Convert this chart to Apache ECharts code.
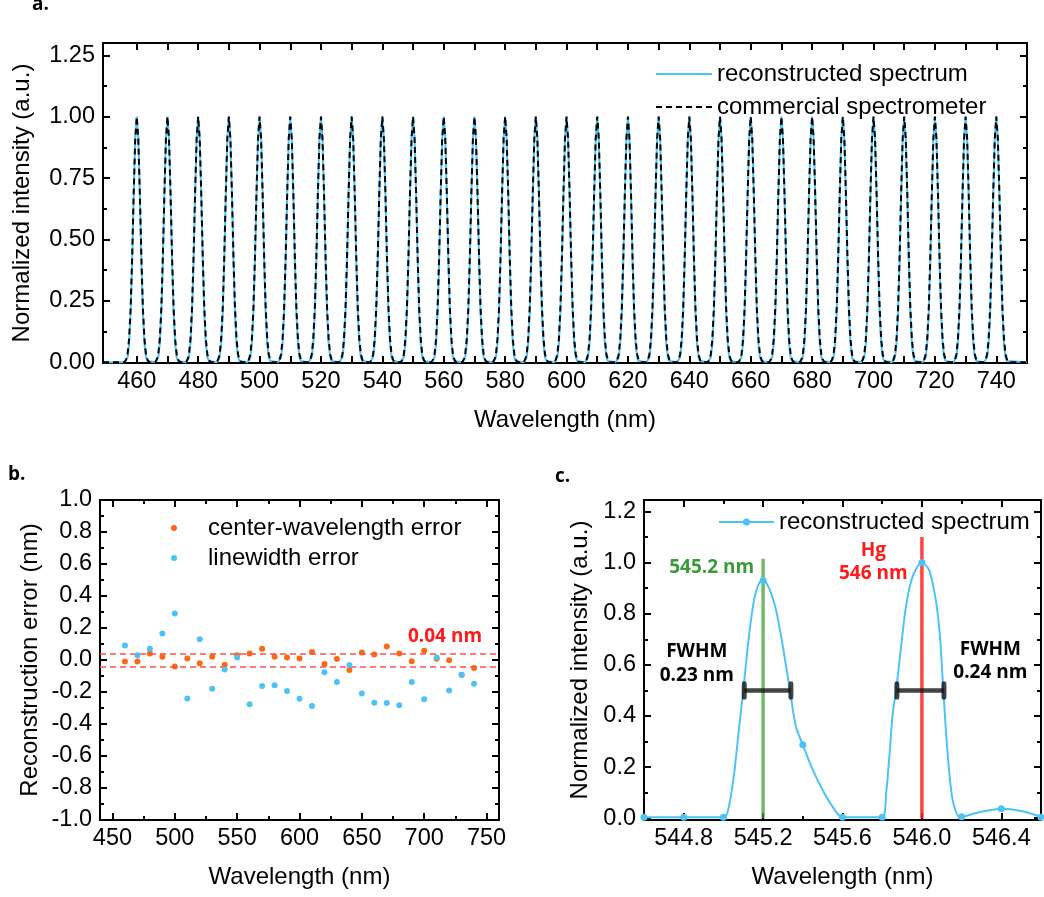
<!DOCTYPE html>
<html><head><meta charset="utf-8">
<script src="https://cdn.jsdelivr.net/npm/echarts@6/dist/echarts.min.js"></script>
<style>html,body{margin:0;padding:0;background:#fff}#c{width:1044px;height:897px}</style>
</head><body><div id="c"></div>
<script>
// ---------- Panel a data ----------
const peakCenters = [460,470,480,490,500,510,520,530,540,550,560,570,580,590,600,610,620,630,640,650,660,670,680,690,700,710,720,730,740];
const profileOffsets = [-4,-3.5,-3,-2.5,-2,-1.5,-1,-0.5,0,0.5,1,1.5,2,2.5,3,3.5,4];
const commercialProfile = [0,0.01,0.033,0.095,0.22,0.43,0.69,0.91,1,0.91,0.69,0.43,0.22,0.095,0.033,0.01,0];
const reconProfile = [0,0.005,0.02,0.075,0.2,0.41,0.68,0.91,1,0.91,0.68,0.41,0.2,0.075,0.02,0.005,0];
const aRange = [449, 750];
const aXTicks = [460,470,480,490,500,510,520,530,540,550,560,570,580,590,600,610,620,630,640,650,660,670,680,690,700,710,720,730,740];
const aXLabels = [460,480,500,520,540,560,580,600,620,640,660,680,700,720,740];
const aYLabels = [0,0.25,0.5,0.75,1,1.25];
const aYMinor = [0.125,0.375,0.625,0.875,1.125];

// ---------- Panel b data ----------
const bWavelengths = [460,470,480,490,500,510,520,530,540,550,560,570,580,590,600,610,620,630,640,650,660,670,680,690,700,710,720,730,740];
const bCenterError = [-0.01,-0.01,0.04,0.02,-0.04,0.01,-0.02,0.02,-0.03,0.03,0.04,0.07,0.02,0.015,0.01,0.05,-0.025,0.006,-0.062,0.047,0.035,0.085,0.04,-0.008,0.058,0.008,-0.002,-0.092,-0.05];
const bLinewidthError = [0.09,0.03,0.07,0.165,0.29,-0.24,0.13,-0.18,-0.06,0.015,-0.277,-0.162,-0.158,-0.194,-0.242,-0.288,-0.077,-0.138,-0.031,-0.21,-0.267,-0.269,-0.283,-0.138,-0.246,0.015,-0.19,-0.094,-0.148];
const bThreshold = 0.04;
const bXLabels = [450,500,550,600,650,700,750];
const bXMinor = [475,525,575,625,675,725];
const bYLabels = [-1,-0.8,-0.6,-0.4,-0.2,0,0.2,0.4,0.6,0.8,1];
const bYMinor = [-0.9,-0.7,-0.5,-0.3,-0.1,0.1,0.3,0.5,0.7,0.9];

// ---------- Panel c data ----------
const cPointX = [544.6,544.8,545.0,545.2,545.4,545.6,545.8,546.0,546.2,546.4,546.6];
const cPointY = [0.004,0.004,0.004,0.93,0.287,0.004,0.004,1.0,0.006,0.037,0.004];
const cCurveX = [544.6,544.8,545.0,545.02,545.05,545.08,545.1,545.13,545.155,545.18,545.2,545.23,545.265,545.3,545.335,545.365,545.4,545.45,545.5,545.55,545.6,545.8,545.82,545.837,545.853,545.87,545.895,545.92,545.953,546.0,546.037,546.07,546.09,546.108,546.13,546.155,546.19,546.2,546.3,546.4,546.5,546.6];
const cCurveY = [0.004,0.004,0.004,0.02,0.15,0.36,0.5,0.72,0.855,0.92,0.93,0.9,0.815,0.67,0.5,0.36,0.287,0.19,0.11,0.045,0.004,0.004,0.1,0.25,0.41,0.5,0.67,0.83,0.945,1.0,0.97,0.854,0.72,0.5,0.25,0.07,0.004,0.005,0.025,0.037,0.028,0.005];
const cXLabels = [544.8,545.2,545.6,546.0,546.4];
const cXMinor = [545.0,545.4,545.8,546.2];
const cYLabels = [0,0.2,0.4,0.6,0.8,1.0,1.2];
const cYMinor = [0.1,0.3,0.5,0.7,0.9,1.1];
const cGreenLine = [545.2, 1.015];   // wavelength, top
const cRedLine = [546.0, 1.10];
const cHalfMax = 0.5;
const cFwhm1 = [545.105, 545.34];
const cFwhm2 = [545.874, 546.111];
const cTextGreen = [[544.941, 0.979, '545.2 nm']];
const cTextRed = [[545.755, 1.047, 'Hg'], [545.755, 0.958, '546 nm']];
const cTextBlack = [[544.866, 0.651, 'FWHM'], [544.866, 0.558, '0.23 nm'], [546.345, 0.658, 'FWHM'], [546.345, 0.568, '0.24 nm']];
const bTextRed = [[716.7, 0.144, '0.04 nm']];

const names = {recA:'reconstructed spectrum', comA:'commercial spectrometer', cwErr:'center-wavelength error', lwErr:'linewidth error', recC:'reconstructed spectrum'};

// ---------- build ----------
const FONT = '"Liberation Sans", Arial, sans-serif';
const BOLD = '"Open Sans", "DejaVu Sans", sans-serif';
const BLUE = '#4dc3f4';
const ORANGE = '#f96a14';
const TICK_FS = 23.5, NAME_FS = 24;

function buildSpectrum(profile) {
  const pts = [[aRange[0], 0]];
  peakCenters.forEach(c => profileOffsets.forEach((o, i) => pts.push([c + o, profile[i]])));
  pts.push([aRange[1], 0]);
  return pts;
}

function makeAxes(dim, gridIndex, cfg) {
  const sides = dim === 'x' ? ['bottom', 'top'] : ['left', 'right'];
  const common = {type: 'value', gridIndex, min: cfg.min, max: cfg.max, splitLine: {show: false}, silent: true};
  const tick = {color: '#000', width: 2};
  const line = {show: true, onZero: false, lineStyle: {color: '#000', width: 2}};
  const noLine = {show: false, onZero: false};
  const hasMinor = cfg.minors && cfg.minors.length > 0;
  return [
    Object.assign({}, common, {position: sides[0], axisLine: line,
      axisTick: {show: true, inside: true, length: 7, lineStyle: tick, customValues: cfg.majors},
      axisLabel: {show: true, customValues: cfg.labels, formatter: cfg.fmt, color: '#000', fontSize: TICK_FS, fontFamily: FONT, margin: cfg.margin},
      name: cfg.name, nameLocation: 'middle', nameGap: cfg.nameGap,
      nameTextStyle: {color: '#000', fontSize: NAME_FS, fontFamily: FONT}}),
    Object.assign({}, common, {position: sides[0], axisLine: noLine,
      axisTick: {show: hasMinor, inside: true, length: 4, lineStyle: tick, customValues: hasMinor ? cfg.minors : undefined},
      axisLabel: {show: false}}),
    Object.assign({}, common, {position: sides[1], axisLine: line,
      axisTick: {show: true, inside: true, length: 7, lineStyle: tick, customValues: cfg.majors},
      axisLabel: {show: false}}),
    Object.assign({}, common, {position: sides[1], axisLine: noLine,
      axisTick: {show: hasMinor, inside: true, length: 4, lineStyle: tick, customValues: hasMinor ? cfg.minors : undefined},
      axisLabel: {show: false}})
  ];
}

const xAxis = [], yAxis = [];
xAxis.push(...makeAxes('x', 0, {min: aRange[0], max: aRange[1], majors: aXTicks, minors: [], labels: aXLabels, fmt: v => String(v), margin: 7, name: 'Wavelength (nm)', nameGap: 45}));
yAxis.push(...makeAxes('y', 0, {min: -0.003, max: 1.3, majors: aYLabels, minors: aYMinor, labels: aYLabels, fmt: v => v.toFixed(2), margin: 8, name: 'Normalized intensity (a.u.)', nameGap: 69}));
xAxis.push(...makeAxes('x', 1, {min: 440, max: 760, majors: bXLabels, minors: bXMinor, labels: bXLabels, fmt: v => String(v), margin: 7, name: 'Wavelength (nm)', nameGap: 45}));
yAxis.push(...makeAxes('y', 1, {min: -1, max: 1, majors: bYLabels, minors: bYMinor, labels: bYLabels, fmt: v => v.toFixed(1), margin: 8, name: 'Reconstruction error (nm)', nameGap: 58}));
xAxis.push(...makeAxes('x', 2, {min: 544.6, max: 546.6, majors: cXLabels, minors: cXMinor, labels: cXLabels, fmt: v => v.toFixed(1), margin: 7, name: 'Wavelength (nm)', nameGap: 45}));
yAxis.push(...makeAxes('y', 2, {min: -0.007, max: 1.245, majors: cYLabels, minors: cYMinor, labels: cYLabels, fmt: v => v.toFixed(1), margin: 8, name: 'Normalized intensity (a.u.)', nameGap: 52}));

const A = {xAxisIndex: 0, yAxisIndex: 0};
const B = {xAxisIndex: 4, yAxisIndex: 4};
const C = {xAxisIndex: 8, yAxisIndex: 8};

function textSeries(ax, items, color) {
  return Object.assign({type: 'scatter', symbolSize: 1, silent: true, z: 10,
    itemStyle: {color: 'rgba(0,0,0,0)', opacity: 1},
    label: {show: true, position: 'inside', align: 'center', verticalAlign: 'middle', color, opacity: 1, fontSize: 19, fontWeight: 'bold', fontFamily: BOLD},
    data: items.map(d => ({value: [d[0], d[1]], label: {formatter: d[2]}}))}, ax);
}

const series = [
  Object.assign({type: 'line', name: 'recA', data: buildSpectrum(reconProfile), symbol: 'none', lineStyle: {color: BLUE, width: 2}, itemStyle: {color: BLUE}, z: 2}, A),
  Object.assign({type: 'line', name: 'comA', data: buildSpectrum(commercialProfile), symbol: 'none', lineStyle: {color: '#000', width: 2, type: [6, 4]}, itemStyle: {color: '#000'}, z: 3}, A),

  Object.assign({type: 'scatter', name: 'cwErr', data: bWavelengths.map((w, i) => [w, bCenterError[i]]), symbol: 'circle', symbolSize: 6, itemStyle: {color: ORANGE, opacity: 1}, z: 4,
    markLine: {silent: true, symbol: ['none', 'none'], label: {show: false}, lineStyle: {color: '#ff4d4d', width: 1.5, type: [6, 4]},
      data: [{yAxis: bThreshold}, {yAxis: -bThreshold}]}}, B),
  Object.assign({type: 'scatter', name: 'lwErr', data: bWavelengths.map((w, i) => [w, bLinewidthError[i]]), symbol: 'circle', symbolSize: 6, itemStyle: {color: BLUE, opacity: 1}, z: 5}, B),
  textSeries(B, bTextRed, '#ff1a1a'),

  Object.assign({type: 'line', data: [[cGreenLine[0], 0], [cGreenLine[0], cGreenLine[1]]], symbol: 'none', lineStyle: {color: 'rgba(70,160,55,0.75)', width: 3.5}, z: 2}, C),
  Object.assign({type: 'line', data: [[cRedLine[0], 0], [cRedLine[0], cRedLine[1]]], symbol: 'none', lineStyle: {color: 'rgba(255,35,35,0.85)', width: 3.5}, z: 2}, C),
  Object.assign({type: 'line', name: 'recC', data: cCurveX.map((x, i) => [x, cCurveY[i]]), symbol: 'circle', showSymbol: false, smooth: 0.3, lineStyle: {color: BLUE, width: 2}, itemStyle: {color: BLUE}, z: 4}, C),
  Object.assign({type: 'scatter', data: cPointX.map((x, i) => [x, cPointY[i]]), symbolSize: 7, itemStyle: {color: BLUE, opacity: 1}, z: 5}, C),
  Object.assign({type: 'line', data: [[cFwhm1[0], cHalfMax], [cFwhm1[1], cHalfMax]], symbol: 'none', lineStyle: {color: 'rgba(20,20,20,0.8)', width: 4.5}, z: 6}, C),
  Object.assign({type: 'line', data: [[cFwhm2[0], cHalfMax], [cFwhm2[1], cHalfMax]], symbol: 'none', lineStyle: {color: 'rgba(20,20,20,0.8)', width: 4.5}, z: 6}, C),
  Object.assign({type: 'scatter', data: [[cFwhm1[0], cHalfMax], [cFwhm1[1], cHalfMax], [cFwhm2[0], cHalfMax], [cFwhm2[1], cHalfMax]], symbol: 'roundRect', symbolSize: [5, 18], itemStyle: {color: 'rgba(20,20,20,0.8)', opacity: 1}, z: 6}, C),
  textSeries(C, cTextGreen, '#3a9a3a'),
  textSeries(C, cTextRed, '#ff1a1a'),
  textSeries(C, cTextBlack, '#000')
];

const legendText = {fontSize: NAME_FS, fontFamily: FONT, color: '#000'};
const option = {
  animation: false,
  backgroundColor: '#fff',
  grid: [
    {left: 103, top: 43, width: 924, height: 320, outerBoundsMode: 'none', containLabel: false},
    {left: 100, top: 500, width: 399, height: 320, outerBoundsMode: 'none', containLabel: false},
    {left: 644, top: 500, width: 397, height: 320, outerBoundsMode: 'none', containLabel: false}
  ],
  xAxis, yAxis,
  legend: [
    {left: 650, top: 57, orient: 'vertical', itemWidth: 56, itemHeight: 12, itemGap: 9, selectedMode: false,
      data: ['recA', 'comA'], formatter: n => names[n], textStyle: legendText, itemStyle: {opacity: 0}},
    {left: 166, top: 511, orient: 'vertical', itemWidth: 58, itemHeight: 6, itemGap: 6, selectedMode: false, icon: 'circle',
      data: ['cwErr', 'lwErr'], formatter: n => names[n], textStyle: legendText},
    {left: 713, top: 505, orient: 'vertical', itemWidth: 55, itemHeight: 9, selectedMode: false,
      data: ['recC'], formatter: n => names[n], textStyle: legendText}
  ],
  graphic: [
    {type: 'text', x: 32, y: 5, style: {text: 'a.', font: 'bold 19px ' + BOLD, fill: '#000', verticalAlign: 'middle'}},
    {type: 'text', x: 8, y: 475, style: {text: 'b.', font: 'bold 19px ' + BOLD, fill: '#000', verticalAlign: 'middle'}},
    {type: 'text', x: 555, y: 477, style: {text: 'c.', font: 'bold 19px ' + BOLD, fill: '#000', verticalAlign: 'middle'}}
  ],
  series
};
const chart = echarts.init(document.getElementById('c'), null, {renderer: 'canvas'});
chart.setOption(option);
</script></body></html>
